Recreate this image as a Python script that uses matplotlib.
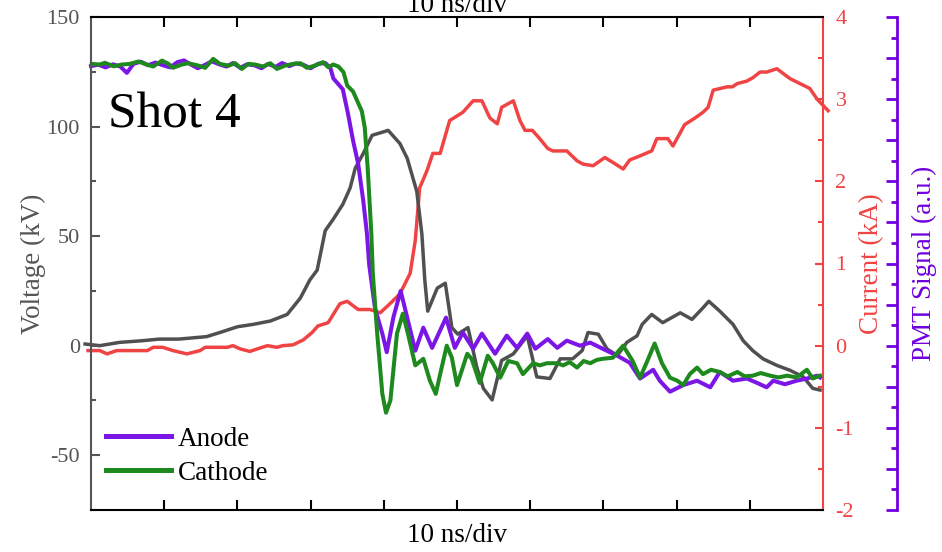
import matplotlib
matplotlib.use("Agg")
import matplotlib.pyplot as plt
from matplotlib.ticker import MultipleLocator, NullFormatter

plt.rcParams["font.family"] = ["Liberation Serif", "DejaVu Serif"]
plt.rcParams["axes.unicode_minus"] = False

# time in ns (10 ns/div)
anode_t = [0.0, 1.0, 2.0, 3.0, 4.0, 4.9, 5.8, 6.8, 7.8, 8.8, 9.8, 10.8, 11.8, 12.7,
           13.7, 14.6, 15.6, 16.5, 17.5, 18.5, 19.4, 20.4, 21.3, 22.3, 23.3, 24.2,
           25.2, 26.1, 27.1, 28.0, 29.0, 30.0, 31.0, 32.0, 32.7, 33.1, 34.4, 35.1,
           35.8, 36.5, 37.2, 37.7, 38.0, 38.8, 39.8, 40.4, 41.3, 42.3, 43.2, 44.3,
           45.4, 46.6, 48.5, 49.7, 50.8, 52.2, 53.4, 55.2, 56.8, 58.2, 59.6, 60.7,
           62.4, 63.7, 65.0, 66.8, 68.2, 69.9, 71.9, 73.6, 75.0, 76.8, 77.7, 79.1,
           80.9, 82.8, 84.6, 85.9, 87.7, 89.6, 91.0, 92.3, 93.2, 94.8, 96.4, 97.8,
           99.2, 99.6]
anode_kv = [127.6, 128.2, 127.0, 128.4, 127.4, 124.5, 128.6, 129.6, 128.0, 129.2,
            128.0, 127.0, 129.4, 130.2, 128.2, 126.6, 128.2, 129.8, 128.4, 127.4,
            129.0, 126.8, 128.4, 128.0, 126.6, 128.6, 127.2, 129.0, 127.6, 128.8,
            128.2, 126.6, 128.6, 129.0, 126.8, 122.0, 117.0, 106.0, 93.6, 83.0,
            66.0, 51.0, 37.0, 17.0, 5.5, -3.0, 12.8, 25.0, 12.8, -2.3, 8.2, -1.0,
            12.8, -1.0, 6.0, -1.4, 5.5, -3.7, 4.6, -1.0, 5.5, -1.4, 3.0, -1.0, 2.3,
            0.0, 1.4, -1.4, -4.6, -7.8, -15.0, -11.0, -16.0, -21.0, -18.0, -16.0,
            -19.0, -12.0, -16.0, -15.0, -17.0, -19.0, -16.0, -17.6, -16.0, -15.0,
            -13.7, -14.5]

cathode_t = [0.1, 1.2, 1.9, 3.1, 4.2, 5.3, 6.5, 7.6, 8.5, 9.7, 10.6, 11.2, 12.4,
             13.3, 14.7, 15.6, 16.7, 17.6, 18.8, 19.7, 20.6, 21.5, 22.4, 23.5, 24.5,
             25.4, 26.5, 27.6, 28.6, 29.5, 30.6, 31.7, 32.4, 33.1, 33.8, 34.5, 35.0,
             35.8, 37.0, 37.4, 37.8, 38.3, 38.5, 39.1, 39.8, 40.3, 40.9, 41.8, 42.6,
             43.3, 44.3, 45.4, 46.3, 47.1, 47.7, 48.6, 49.3, 50.0, 51.4, 52.0, 53.1,
             54.2, 54.9, 55.9, 57.0, 58.2, 59.0, 60.4, 61.3, 62.3, 63.7, 64.5, 65.4,
             66.4, 67.3, 68.2, 69.1, 69.9, 71.3, 72.7, 74.0, 75.0, 76.0, 77.0, 78.0,
             79.1, 80.1, 80.9, 81.8, 82.8, 83.6, 84.7, 85.9, 87.0, 88.3, 89.3, 90.4,
             91.5, 92.8, 93.9, 95.1, 96.4, 97.8, 98.6, 99.6]
cathode_kv = [128.6, 128.3, 129.1, 127.5, 128.3, 128.6, 129.7, 128.3, 127.4, 130.1,
              128.6, 126.8, 128.3, 128.9, 127.8, 126.8, 130.9, 128.6, 127.8, 128.9,
              126.3, 128.6, 128.3, 127.4, 128.9, 126.3, 127.8, 128.6, 128.9, 126.8,
              127.8, 129.4, 127.1, 128.3, 127.4, 124.8, 118.7, 116.0, 107.0, 99.5,
              81.0, 51.0, 33.0, 5.5, -22.0, -30.6, -25.0, 5.5, 14.6, 5.5, -9.0, -6.0,
              -16.0, -22.0, -13.0, 0.0, -5.5, -18.0, -3.7, -6.0, -17.0, -4.6, -8.0,
              -14.6, -7.0, -8.0, -13.0, -8.0, -9.0, -8.0, -8.0, -9.0, -7.5, -10.0,
              -7.0, -8.0, -6.5, -6.0, -5.5, 0.0, -7.0, -14.6, -7.0, 1.0, -8.0, -14.6,
              -16.0, -18.0, -13.0, -10.0, -13.0, -11.0, -12.0, -14.0, -12.0, -14.0,
              -13.7, -12.5, -13.7, -14.5, -13.7, -14.5, -11.0, -15.0, -13.7]

current_t = [-0.4, 1.2, 2.2, 3.5, 7.7, 8.5, 9.8, 11.2, 13.1, 14.9, 15.6, 18.6, 19.4,
             20.4, 21.7, 22.7, 24.1, 25.4, 26.2, 27.6, 29.0, 30.2, 31.0, 32.4, 34.0,
             35.0, 36.5, 38.1, 39.5, 40.6, 42.2, 43.6, 44.3, 44.9, 45.9, 46.7, 47.7,
             49.0, 50.8, 52.2, 53.4, 54.5, 55.5, 56.1, 57.7, 58.6, 59.3, 60.3, 61.3,
             62.4, 63.1, 65.0, 66.4, 67.2, 68.6, 70.2, 71.3, 72.7, 73.6, 75.0, 76.6,
             77.3, 78.8, 79.5, 81.1, 82.5, 83.6, 84.3, 85.0, 86.9, 87.6, 88.3, 89.6,
             90.4, 91.4, 92.3, 93.7, 95.5, 98.2, 99.2, 100.7]
current_ka = [-0.06, -0.06, -0.10, -0.06, -0.06, -0.02, -0.02, -0.06, -0.10, -0.06,
              -0.02, -0.02, 0.0, -0.04, -0.07, -0.04, 0.0, -0.02, 0.0, 0.01, 0.07,
              0.16, 0.24, 0.28, 0.51, 0.54, 0.44, 0.44, 0.40, 0.49, 0.63, 0.88, 1.28,
              1.92, 2.13, 2.34, 2.34, 2.74, 2.84, 2.98, 2.98, 2.77, 2.70, 2.90, 2.98,
              2.74, 2.62, 2.62, 2.52, 2.40, 2.37, 2.37, 2.25, 2.21, 2.19, 2.29, 2.23,
              2.15, 2.26, 2.31, 2.37, 2.52, 2.52, 2.43, 2.69, 2.77, 2.84, 2.90, 3.11,
              3.15, 3.15, 3.19, 3.22, 3.26, 3.33, 3.33, 3.37, 3.25, 3.13, 3.00, 2.86]

pmt_t = [-0.8, 1.2, 3.9, 7.0, 9.3, 12.0, 15.8, 17.6, 20.0, 22.2, 24.5, 26.8, 28.6,
         29.9, 30.9, 32.0, 33.1, 34.4, 35.4, 36.1, 37.2, 38.4, 40.6, 42.2, 43.2,
         44.5, 45.2, 45.6, 46.0, 47.3, 48.4, 49.3, 50.1, 51.5, 52.7, 53.6, 54.8,
         56.1, 57.7, 59.6, 60.9, 62.7, 64.1, 65.8, 67.1, 67.9, 69.3, 70.5, 71.9,
         73.2, 74.6, 75.3, 76.6, 78.1, 80.5, 82.1, 83.6, 84.4, 85.9, 87.7, 89.1,
         90.4, 91.8, 93.7, 95.5, 97.3, 98.6, 99.6]
pmt_au = [0.01, 0.0, 0.02, 0.03, 0.04, 0.04, 0.055, 0.08, 0.115, 0.13, 0.15, 0.19,
          0.29, 0.40, 0.46, 0.70, 0.77, 0.86, 0.96, 1.08, 1.17, 1.28, 1.31, 1.23,
          1.14, 0.94, 0.68, 0.40, 0.21, 0.35, 0.38, 0.11, 0.07, 0.11, -0.13, -0.26,
          -0.33, -0.09, -0.05, 0.06, -0.19, -0.20, -0.08, -0.08, -0.03, 0.08, 0.07,
          -0.02, -0.06, 0.02, 0.06, 0.13, 0.19, 0.14, 0.20, 0.16, 0.23, 0.27, 0.21,
          0.13, 0.03, -0.03, -0.08, -0.12, -0.15, -0.19, -0.26, -0.27]

c_anode = "#7B16E6"
c_cathode = "#1E8A1E"
c_current = "#F04444"
c_pmt = "#505050"
c_pmt_axis = "#7000E0"
c_volt_axis = "#555555"

fig = plt.figure(figsize=(9.42, 5.52), dpi=100)
ax = fig.add_axes([91 / 942, 1 - 510 / 552, 732 / 942, 493 / 552])
ax_i = ax.twinx()
ax_p = ax.twinx()

# voltage (left)
ax.plot(anode_t, anode_kv, color=c_anode, lw=2.9, label="Anode", clip_on=False)
ax.plot(cathode_t, cathode_kv, color=c_cathode, lw=2.9, label="Cathode", clip_on=False)
ax.set_xlim(0, 100)
ax.set_ylim(-75, 150)
ax.set_xticks([10, 20, 30, 40, 50, 60, 70, 80, 90])
ax.xaxis.set_major_formatter(NullFormatter())
ax.yaxis.set_major_locator(MultipleLocator(50))
ax.yaxis.set_minor_locator(MultipleLocator(25))
ax.tick_params(axis="x", which="major", direction="in", top=True, bottom=True,
               length=7, width=1.5, color="black")
ax.tick_params(axis="y", which="major", direction="in", length=6.5, width=1.5,
               colors=c_volt_axis, labelsize=16, pad=8)
ax.tick_params(axis="y", which="minor", direction="in", length=3.5, width=1.5,
               colors=c_volt_axis)
ax.spines["left"].set_color(c_volt_axis)
ax.spines["left"].set_linewidth(1.5)
ax.spines["top"].set_linewidth(1.5)
ax.spines["bottom"].set_linewidth(1.5)
ax.spines["right"].set_visible(False)
ax.set_ylabel("Voltage (kV)", fontsize=19.5, color=c_volt_axis)
ax.yaxis.set_label_coords(-0.062, 0.5)
ax.set_xlabel("10 ns/div", fontsize=19.5)
ax.xaxis.set_label_coords(0.5, -0.026)
ax.text(0.5, 1.01, "10 ns/div", transform=ax.transAxes, ha="center",
        va="baseline", fontsize=19.5)

# current (first right axis)
ax_i.plot(current_t, current_ka, color=c_current, lw=2.5, clip_on=False)
ax_i.set_ylim(-2, 4)
ax_i.yaxis.set_major_locator(MultipleLocator(1))
ax_i.yaxis.set_minor_locator(MultipleLocator(0.5))
ax_i.tick_params(axis="y", which="major", direction="in", length=5.5, width=1.5,
                 colors=c_current, labelsize=16, pad=9)
ax_i.tick_params(axis="y", which="minor", direction="in", length=3.5, width=1.5,
                 colors=c_current)
for s in ["left", "top", "bottom"]:
    ax_i.spines[s].set_visible(False)
ax_i.spines["right"].set_color(c_current)
ax_i.spines["right"].set_linewidth(1.5)
ax_i.set_ylabel("Current (kA)", fontsize=19.5, color=c_current)
ax_i.yaxis.set_label_coords(1.05, 0.5)

# PMT (second right axis)
ax_p.plot(pmt_t, pmt_au, color=c_pmt, lw=2.5, clip_on=False)
ax_p.set_ylim(-1, 2)
ax_p.yaxis.set_major_locator(MultipleLocator(0.25))
ax_p.yaxis.set_minor_locator(MultipleLocator(0.125))
ax_p.yaxis.set_major_formatter(NullFormatter())
ax_p.spines["right"].set_position(("axes", (897 - 91) / 732))
for s in ["left", "top", "bottom"]:
    ax_p.spines[s].set_visible(False)
ax_p.spines["right"].set_color(c_pmt_axis)
ax_p.spines["right"].set_linewidth(2)
ax_p.tick_params(axis="y", which="major", direction="in", length=8, width=2,
                 colors=c_pmt_axis)
ax_p.tick_params(axis="y", which="minor", direction="in", length=4, width=2,
                 colors=c_pmt_axis)
ax_p.set_ylabel("PMT Signal (a.u.)", fontsize=19.5, color=c_pmt_axis)
ax_p.yaxis.set_label_coords(1.1216, 0.5)

# voltage traces drawn over the other two
ax.set_zorder(3)
ax.patch.set_visible(False)
ax_i.set_zorder(1)
ax_p.set_zorder(2)

leg = ax.legend(loc="lower left", bbox_to_anchor=(0.0205, 0.049), frameon=False,
                fontsize=19.5, handlelength=2.4, handletextpad=0.25,
                labelspacing=0.34, borderpad=0, borderaxespad=0)
for line in leg.get_lines():
    line.set_linewidth(3.6)

fig.text(108 / 942, 1 - 128 / 552, "Shot 4", fontsize=37, va="baseline", ha="left")

fig.savefig("out.png", dpi=100)
